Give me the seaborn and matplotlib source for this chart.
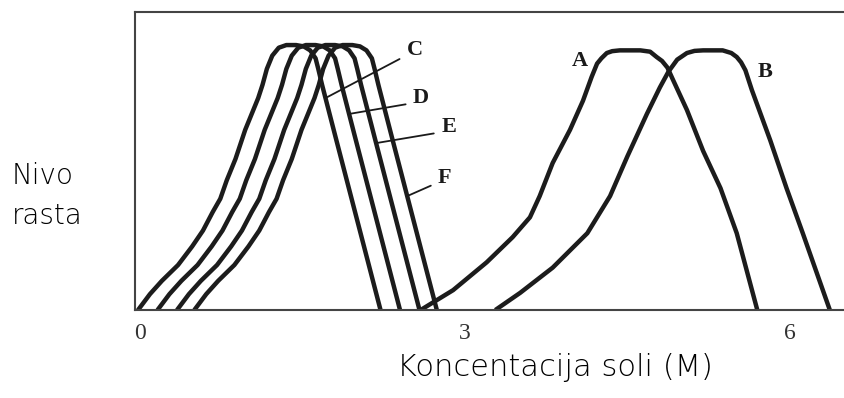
import numpy as np
import pandas as pd
import matplotlib
matplotlib.use("Agg")
import matplotlib.pyplot as plt
import seaborn as sns

# podaci očitani sa slike (koncentracija soli u M, relativni nivo rasta)
y_cf = [0, 0.06, 0.11, 0.17, 0.24, 0.30, 0.37, 0.42, 0.49, 0.57, 0.68, 0.80, 0.85, 0.91,
        0.96, 0.99, 1.0, 1.0, 0.995, 0.98, 0.95, 0.91, 0.85, 0.66, 0.44, 0.22, 0]
x_c = [-0.02, 0.09, 0.20, 0.35, 0.48, 0.58, 0.67, 0.74, 0.80, 0.88, 0.97, 1.09, 1.13, 1.17,
       1.22, 1.28, 1.35, 1.44, 1.51, 1.57, 1.62, 1.645, 1.68, 1.80, 1.94, 2.08, 2.22]
x_d = [0.16, 0.27, 0.38, 0.53, 0.66, 0.76, 0.85, 0.92, 0.98, 1.06, 1.15, 1.27, 1.31, 1.35,
       1.40, 1.46, 1.53, 1.62, 1.69, 1.75, 1.80, 1.825, 1.86, 1.98, 2.12, 2.26, 2.40]
x_e = [0.34, 0.45, 0.56, 0.71, 0.84, 0.94, 1.03, 1.10, 1.16, 1.24, 1.33, 1.45, 1.49, 1.53,
       1.58, 1.64, 1.71, 1.80, 1.87, 1.93, 1.98, 2.005, 2.04, 2.16, 2.30, 2.44, 2.58]
x_f = [0.50, 0.61, 0.72, 0.87, 1.00, 1.10, 1.19, 1.26, 1.32, 1.40, 1.49, 1.61, 1.65, 1.69,
       1.74, 1.80, 1.87, 1.96, 2.03, 2.09, 2.14, 2.165, 2.20, 2.32, 2.46, 2.60, 2.74]

x_a = [2.59, 2.89, 3.20, 3.44, 3.60, 3.69, 3.81, 3.97, 4.09, 4.17, 4.22, 4.26, 4.31,
       4.36, 4.43, 4.62, 4.71, 4.77, 4.82, 4.87, 4.92, 5.05, 5.20, 5.36, 5.51, 5.70]
y_a = [0, 0.075, 0.18, 0.275, 0.35, 0.43, 0.555, 0.68, 0.79, 0.88, 0.93, 0.95, 0.97,
       0.977, 0.98, 0.98, 0.975, 0.955, 0.94, 0.915, 0.87, 0.755, 0.60, 0.46, 0.29, 0]
x_b = [3.28, 3.51, 3.81, 4.13, 4.34, 4.50, 4.68, 4.80, 4.88, 4.96, 5.05, 5.12, 5.20,
       5.38, 5.46, 5.51, 5.55, 5.59, 5.65, 5.82, 5.97, 6.12, 6.37]
y_b = [0, 0.065, 0.16, 0.29, 0.43, 0.58, 0.74, 0.84, 0.90, 0.945, 0.97, 0.978, 0.98,
       0.98, 0.97, 0.955, 0.935, 0.905, 0.83, 0.64, 0.46, 0.29, 0]

labels_cf = ["C", "D", "E", "F"]
label_pos_cf = [(2.46, 0.98), (2.52, 0.80), (2.78, 0.69), (2.75, 0.50)]
pointer_level = [0.80, 0.74, 0.63, 0.43]
label_pos_ab = {"A": (4.06, 0.94), "B": (5.77, 0.90)}

x_ticks = [0, 3, 6]

rows = []
for name, xs in zip(labels_cf, [x_c, x_d, x_e, x_f]):
    rows.append(pd.DataFrame({"konc": xs, "rast": y_cf, "krivulja": name}))
rows.append(pd.DataFrame({"konc": x_a, "rast": y_a, "krivulja": "A"}))
rows.append(pd.DataFrame({"konc": x_b, "rast": y_b, "krivulja": "B"}))
df = pd.concat(rows, ignore_index=True)

sns.set_style("white")
fig = plt.figure(figsize=(8.45, 3.98), dpi=100)
ax = fig.add_axes([0.16, 0.221, 0.84, 0.749])

sns.lineplot(data=df, x="konc", y="rast", units="krivulja", estimator=None,
             sort=False, color="#1c1c1c", lw=3.2, ax=ax,
             solid_joinstyle="round", solid_capstyle="butt")

ax.set_xlim(-0.046, 6.51)
ax.set_ylim(0, 1.125)

serif = dict(family="Liberation Serif", fontweight="bold", fontsize=16, color="#1a1a1a")

# oznake C-F sa linijama prema opadajucem dijelu krivulje
for name, xs, pos, lvl in zip(labels_cf, [x_c, x_d, x_e, x_f], label_pos_cf, pointer_level):
    peak = int(np.argmax(y_cf)) + 2
    xd = np.array(xs[peak:])[::-1]
    yd = np.array(y_cf[peak:])[::-1]
    tx = np.interp(lvl, yd, xd)
    ax.annotate(name, xy=(tx, lvl), xytext=pos, ha="left", va="center",
                arrowprops=dict(arrowstyle="-", color="#1a1a1a", lw=1.3,
                                relpos=(0, 0.25), shrinkA=3, shrinkB=0),
                **serif)

for name, pos in label_pos_ab.items():
    ax.text(pos[0], pos[1], name, ha="center", va="center", **serif)

ax.set_xticks(x_ticks)
ax.set_xticklabels([str(t) for t in x_ticks], family="Liberation Serif", fontsize=17, color="#333333")
ax.set_yticks([])
ax.tick_params(axis="x", length=0, pad=9)
ax.set_xlabel("")
ax.set_ylabel("")

for side in ["left", "top", "bottom"]:
    ax.spines[side].set_color("#444444")
    ax.spines[side].set_linewidth(1.5)
ax.spines["right"].set_visible(False)

fig.text(555 / 845, 1 - 367 / 398, "Koncentacija soli (M)", ha="center", va="center",
         family="DejaVu Sans", fontweight="light", fontsize=22, color="black")
fig.text(12 / 845, 1 - 196 / 398, "Nivo\nrasta", ha="left", va="center",
         family="DejaVu Sans", fontweight="light", fontsize=20, color="black", linespacing=1.5)

fig.savefig("out.png", dpi=100)
